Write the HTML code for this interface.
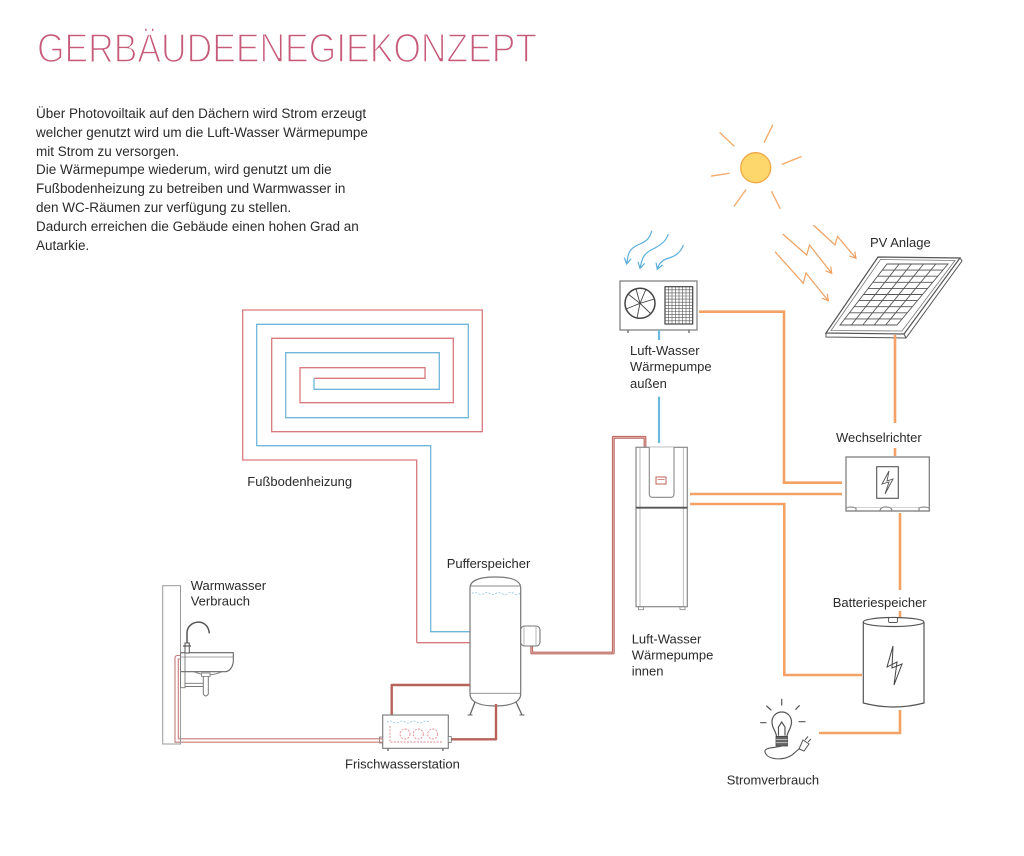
<!DOCTYPE html>
<html>
<head>
<meta charset="utf-8">
<style>
  html,body{margin:0;padding:0;background:#fff;}
  body{width:1024px;height:856px;position:relative;overflow:hidden;font-family:"Liberation Sans",Arial,sans-serif;}
  #para{position:absolute;left:36px;top:105px;font-size:13.5px;line-height:18.8px;color:#2a2a2a;white-space:nowrap;}
  svg{position:absolute;left:0;top:0;}
</style>
</head>
<body>
<svg width="1024" height="856" viewBox="0 0 1024 856" xmlns="http://www.w3.org/2000/svg" font-family="Liberation Sans, Arial, sans-serif">
  <defs>
    <marker id="ao" markerWidth="8" markerHeight="8" refX="6" refY="4" orient="auto" markerUnits="userSpaceOnUse">
      <path d="M0,0.5 L6,4 L0,7.5" fill="none" stroke="#f0a060" stroke-width="1.2"/>
    </marker>
    <marker id="ab" markerWidth="8" markerHeight="8" refX="6" refY="4" orient="auto" markerUnits="userSpaceOnUse">
      <path d="M0,0.5 L6,4 L0,7.5" fill="none" stroke="#5aaedc" stroke-width="1.2"/>
    </marker>
  </defs>

  <!-- Title (thinned with white stroke) -->
  <text x="37" y="62" font-size="41" fill="#c65a78" stroke="#fff" stroke-width="1.6" textLength="500" lengthAdjust="spacingAndGlyphs">GERBÄUDEENEGIEKONZEPT</text>

  <!-- Floor heating spiral -->
  <polyline fill="none" stroke="#d9797e" stroke-width="1.3"
    points="416.7,642.7 416.7,460 242.7,460 242.7,310 482.3,310 482.3,431.7 271.7,431.7 271.7,338.3 453.3,338.3 453.3,402.7 300,402.7 300,367.7 425,367.7 425,378.3 314,378.3"/>
  <polyline fill="none" stroke="#70b6d8" stroke-width="1.3"
    points="314,378.3 314,389.3 439.3,389.3 439.3,352.7 285.7,352.7 285.7,417.7 468.3,417.7 468.3,324.3 256.7,324.3 256.7,445.7 430.7,445.7 430.7,631.7 470,631.7"/>
  <line x1="416.7" y1="642.7" x2="470" y2="642.7" stroke="#d9797e" stroke-width="1.3"/>

  <!-- Sun -->
  <g stroke="#f2ad6e" stroke-width="1.4" stroke-linecap="round">
    <line x1="720" y1="132.7" x2="734" y2="146"/>
    <line x1="772.7" y1="125" x2="764.3" y2="142.3"/>
    <line x1="782.3" y1="164.3" x2="801" y2="156.7"/>
    <line x1="711.7" y1="176" x2="729" y2="173.3"/>
    <line x1="745.7" y1="190" x2="734.3" y2="206"/>
    <line x1="771.7" y1="191.7" x2="780" y2="208.3"/>
  </g>
  <circle cx="755.7" cy="167.7" r="15" fill="#fdd66c" stroke="#f0a848" stroke-width="1.3"/>

  <!-- Light rays -->
  <g fill="none" stroke="#f0a060" stroke-width="1.2">
    <polyline points="782.7,234 806.7,255 809.5,245 831.7,273.3" marker-end="url(#ao)"/>
    <polyline points="813.3,225 835,245 837.5,236.5 856,258.3" marker-end="url(#ao)"/>
    <polyline points="775,251.7 803.3,283.3 806,273 828.3,300.7" marker-end="url(#ao)"/>
  </g>

  <!-- PV panel -->
  <polygon points="826,333 878,257 960,258 904,334" fill="#fff" stroke="#555" stroke-width="1.2"/>
  <polyline points="826,333 826,337 906,338 962,261 960,258" fill="none" stroke="#555" stroke-width="1"/>
  <line x1="904" y1="334" x2="906" y2="338" stroke="#555" stroke-width="1"/>
  <polygon points="831,330.5 880.5,259.5 955,260.5 902,331" fill="none" stroke="#777" stroke-width="0.8"/>
  <g stroke="#555" stroke-width="0.9" fill="none">
    <polygon points="887,264 948,264 897,325 840,325"/>
    <line x1="899.2" y1="264" x2="851.4" y2="325"/>
    <line x1="911.4" y1="264" x2="862.8" y2="325"/>
    <line x1="923.6" y1="264" x2="874.2" y2="325"/>
    <line x1="935.8" y1="264" x2="885.6" y2="325"/>
    <line x1="882.3" y1="270.1" x2="942.9" y2="270.1"/>
    <line x1="877.6" y1="276.2" x2="937.8" y2="276.2"/>
    <line x1="872.9" y1="282.3" x2="932.7" y2="282.3"/>
    <line x1="868.2" y1="288.4" x2="927.6" y2="288.4"/>
    <line x1="863.5" y1="294.5" x2="922.5" y2="294.5"/>
    <line x1="858.8" y1="300.6" x2="917.4" y2="300.6"/>
    <line x1="854.1" y1="306.7" x2="912.3" y2="306.7"/>
    <line x1="849.4" y1="312.8" x2="907.2" y2="312.8"/>
    <line x1="844.7" y1="318.9" x2="902.1" y2="318.9"/>
  </g>

  <!-- Orange power lines -->
  <g fill="none" stroke="#f3a263" stroke-width="2.6">
    <polyline points="699,311.7 784,311.7 784,482.7 842,482.7"/>
    <line x1="690" y1="494" x2="842" y2="494"/>
    <polyline points="690,504 784.3,504 784.3,675 862,675"/>
    <line x1="895" y1="335" x2="895" y2="423"/>
    <line x1="895" y1="448" x2="895" y2="456"/>
    <line x1="900" y1="513" x2="900" y2="590"/>
    <line x1="900" y1="611" x2="900" y2="617"/>
    <polyline points="900,710 900,733 819,733"/>
  </g>

  <!-- Blue air arrows -->
  <g fill="none" stroke="#5aaedc" stroke-width="1.2">
    <path d="M651.7,230.7 C650,238 647,241 640,244 C632,247 629,251 628,256 L626.7,264" marker-end="url(#ab)"/>
    <path d="M668.3,234 C666,241 662,244 655,248 C646,252 643,256 641.5,262 L640,268.3" marker-end="url(#ab)"/>
    <path d="M683.3,245 C681,252 676,256 669,258 C662,260 660,263 658.5,266 L657.3,269.3" marker-end="url(#ab)"/>
  </g>

  <!-- Outdoor heat pump -->
  <rect x="620" y="281" width="77" height="49" fill="#fff" stroke="#777" stroke-width="1.2"/>
  <line x1="628" y1="330" x2="628" y2="333" stroke="#777" stroke-width="1.5"/>
  <line x1="689" y1="330" x2="689" y2="333" stroke="#777" stroke-width="1.5"/>
  <circle cx="640" cy="303.3" r="15" fill="none" stroke="#444" stroke-width="1.5"/>
  <g stroke="#444" stroke-width="0.9">
    <line x1="640" y1="303.3" x2="646" y2="289"/>
    <line x1="640" y1="303.3" x2="654.5" y2="299"/>
    <line x1="640" y1="303.3" x2="651" y2="314"/>
    <line x1="640" y1="303.3" x2="637" y2="318"/>
    <line x1="640" y1="303.3" x2="626" y2="309"/>
    <line x1="640" y1="303.3" x2="628" y2="294"/>
    <line x1="640" y1="303.3" x2="636" y2="289"/>
  </g>
  <rect x="665" y="286.7" width="27.7" height="37.3" fill="none" stroke="#444" stroke-width="1.2"/>
  <g stroke="#555" stroke-width="0.6">
    <line x1="668.5" y1="287" x2="668.5" y2="324"/><line x1="672" y1="287" x2="672" y2="324"/>
    <line x1="675.5" y1="287" x2="675.5" y2="324"/><line x1="679" y1="287" x2="679" y2="324"/>
    <line x1="682.5" y1="287" x2="682.5" y2="324"/><line x1="686" y1="287" x2="686" y2="324"/>
    <line x1="689.5" y1="287" x2="689.5" y2="324"/>
    <line x1="665" y1="289.8" x2="692.7" y2="289.8"/><line x1="665" y1="292.9" x2="692.7" y2="292.9"/>
    <line x1="665" y1="296" x2="692.7" y2="296"/><line x1="665" y1="299.1" x2="692.7" y2="299.1"/>
    <line x1="665" y1="302.2" x2="692.7" y2="302.2"/><line x1="665" y1="305.3" x2="692.7" y2="305.3"/>
    <line x1="665" y1="308.4" x2="692.7" y2="308.4"/><line x1="665" y1="311.5" x2="692.7" y2="311.5"/>
    <line x1="665" y1="314.6" x2="692.7" y2="314.6"/><line x1="665" y1="317.7" x2="692.7" y2="317.7"/>
    <line x1="665" y1="320.8" x2="692.7" y2="320.8"/>
  </g>

  <!-- Blue pipe outdoor->indoor -->
  <line x1="659" y1="330" x2="659" y2="340" stroke="#6cb8e0" stroke-width="2.2"/>
  <line x1="659" y1="396.7" x2="659" y2="443" stroke="#6cb8e0" stroke-width="2.2"/>

  <!-- Red pipe heat pump -> tank -->
  <polyline points="531.7,643 531.7,653 613.3,653 613.3,437.3 645,437.3 645,447" fill="none" stroke="#b9655f" stroke-width="2.8" stroke-linejoin="round"/>
  <polyline points="531.7,643 531.7,653 613.3,653 613.3,437.3 645,437.3 645,447" fill="none" stroke="#eab9b4" stroke-width="0.8" stroke-linejoin="round"/>

  <!-- Indoor heat pump -->
  <rect x="636" y="447.3" width="51.3" height="159.4" fill="#fff" stroke="#888" stroke-width="1.2"/>
  <line x1="640" y1="447.3" x2="640" y2="606.7" stroke="#aaa" stroke-width="0.8"/>
  <line x1="683.3" y1="447.3" x2="683.3" y2="606.7" stroke="#aaa" stroke-width="0.8"/>
  <path d="M649.3,447.3 L649.3,494 Q649.3,497.3 652.5,497.3 L671,497.3 Q674,497.3 674,494 L674,447.3" fill="#fff" stroke="#888" stroke-width="1.1"/>
  <rect x="656" y="477" width="10" height="7" fill="none" stroke="#c0605a" stroke-width="1"/>
  <line x1="657.5" y1="479.5" x2="664.5" y2="479.5" stroke="#c0605a" stroke-width="0.7"/>
  <line x1="636" y1="507.7" x2="687.3" y2="507.7" stroke="#555" stroke-width="1.8"/>
  <rect x="638.5" y="606.7" width="5" height="3" fill="none" stroke="#888" stroke-width="0.8"/>
  <rect x="680" y="606.7" width="5" height="3" fill="none" stroke="#888" stroke-width="0.8"/>

  <!-- Inverter -->
  <path d="M846,457 L929.3,457 L929.3,511 L846,511 Z" fill="#fff" stroke="#777" stroke-width="1.2"/>
  <path d="M846,511 L846,508 Q851,506 856,508 L856,511 M880,511 Q880,507 886,507 Q892,507 892,511 M919,511 L919,508 Q924,506 929.3,508" fill="none" stroke="#777" stroke-width="1"/>
  <line x1="846" y1="507.5" x2="929.3" y2="507.5" stroke="#aaa" stroke-width="0.6"/>
  <rect x="876.7" y="466.7" width="21.6" height="31.6" fill="none" stroke="#555" stroke-width="1.1"/>
  <path d="M889,471 L882,484 L889,482 L885,494 L893,479 L887,481 Z" fill="none" stroke="#555" stroke-width="0.9"/>

  <!-- Battery -->
  <path d="M863.3,622 L863.3,703 Q893.6,711 924,703 L924,622" fill="#fff" stroke="#555" stroke-width="1.2"/>
  <ellipse cx="893.6" cy="622" rx="30.3" ry="4.5" fill="#fff" stroke="#555" stroke-width="1.2"/>
  <rect x="888.5" y="617.5" width="9" height="5" rx="1.5" fill="#fff" stroke="#555" stroke-width="0.9"/>
  <path d="M893,646 L887,667 L897,662 L894,685 L902,664 L892,668 Z" fill="none" stroke="#444" stroke-width="1"/>

  <!-- Light bulb -->
  <g stroke="#555" stroke-width="1.2" fill="none" stroke-linecap="round">
    <line x1="781.7" y1="699.3" x2="781.7" y2="705"/>
    <line x1="766.7" y1="706" x2="771" y2="710"/>
    <line x1="799.3" y1="705.7" x2="795.7" y2="709.3"/>
    <line x1="760.7" y1="722.7" x2="766" y2="722.7"/>
    <line x1="799" y1="721.7" x2="805" y2="721.7"/>
    <path d="M776.5,736.5 C776,731 772,728.5 772,722 C772,716 776.5,712 781.7,712 C787,712 791.5,716 791.5,722 C791.5,728.5 787.5,731 787,736.5 Z"/>
    <path d="M778.5,735 L778.5,727 L781.7,722 L785,727 L785,735"/>
  </g>
  <rect x="776" y="736.5" width="11.5" height="9.5" fill="#666" stroke="#444" stroke-width="0.8"/>
  <line x1="776" y1="739.5" x2="787.5" y2="739.5" stroke="#ddd" stroke-width="0.7"/>
  <line x1="776" y1="742.7" x2="787.5" y2="742.7" stroke="#ddd" stroke-width="0.7"/>
  <path d="M781.7,746 C776,748 764,747 765,752 C767,760 783,761 792,755 L800,748" fill="none" stroke="#555" stroke-width="1.1"/>
  <path d="M799,749 L803,740 L809,744 L804,751 Z" fill="#fff" stroke="#555" stroke-width="1"/>
  <line x1="805" y1="740" x2="808" y2="736.5" stroke="#555" stroke-width="1"/>
  <line x1="808" y1="742" x2="811" y2="739" stroke="#555" stroke-width="1"/>

  <!-- Pufferspeicher (tank) -->
  <path d="M470,588 C470,580 480,577 495.5,577 C511,577 520.7,580 520.7,588 L520.7,694 C520.7,702 511,706 495.5,706 C480,706 470,702 470,694 Z" fill="#fff" stroke="#777" stroke-width="1.2"/>
  <line x1="470" y1="586" x2="520.7" y2="586" stroke="#888" stroke-width="0.9"/>
  <line x1="470" y1="693.3" x2="520.7" y2="693.3" stroke="#888" stroke-width="0.9"/>
  <path d="M472,593.5 q3,-2 6,0 t6,0 t6,0 t6,0 t6,0 t6,0 t6,0 t6,0" fill="none" stroke="#8cc4e6" stroke-width="0.8" stroke-dasharray="2,1.5"/>
  <line x1="475" y1="702" x2="470" y2="715" stroke="#666" stroke-width="1.3"/>
  <line x1="516" y1="702" x2="522" y2="715" stroke="#666" stroke-width="1.3"/>
  <line x1="467.5" y1="715" x2="472.5" y2="715" stroke="#666" stroke-width="1"/>
  <line x1="519.5" y1="715" x2="524.5" y2="715" stroke="#666" stroke-width="1"/>
  <rect x="520.7" y="626" width="19.3" height="20" rx="4" fill="#fff" stroke="#777" stroke-width="1.1"/>
  <line x1="524" y1="626" x2="524" y2="646" stroke="#999" stroke-width="0.7"/>
  <line x1="536" y1="626" x2="536" y2="646" stroke="#999" stroke-width="0.7"/>

  <!-- Tank -> station pipes -->
  <g fill="none" stroke="#b8625c" stroke-width="2.4" stroke-linejoin="round">
    <polyline points="470,685 391.7,685 391.7,715"/>
    <polyline points="496,704 496,739.3 449,739.3"/>
  </g>

  <!-- Frischwasserstation -->
  <rect x="382.7" y="715" width="65.6" height="33.3" fill="#fff" stroke="#777" stroke-width="1.1"/>
  <line x1="388" y1="748.3" x2="388" y2="751" stroke="#777" stroke-width="1.5"/>
  <line x1="443" y1="748.3" x2="443" y2="751" stroke="#777" stroke-width="1.5"/>
  <rect x="379.5" y="737" width="3.2" height="6" fill="#fff" stroke="#777" stroke-width="0.8"/>
  <rect x="448.3" y="736.5" width="3" height="6" fill="#fff" stroke="#777" stroke-width="0.8"/>
  <path d="M387,722 q3,-2 6,0 t6,0 t6,0 t6,0 t6,0 t6,0 t6,0" fill="none" stroke="#8cc4e6" stroke-width="0.8" stroke-dasharray="2,1.5"/>
  <g fill="none" stroke="#e28a8e" stroke-width="0.9" stroke-dasharray="2,1.3">
    <path d="M390,726 L390,742 L442,742"/>
    <circle cx="405" cy="734" r="5"/>
    <circle cx="418.3" cy="734" r="5"/>
    <circle cx="432.7" cy="734" r="5"/>
  </g>

  <!-- Station -> sink pipe (double line) -->
  <path d="M382.7,742.2 L175,742.2 L175,658 Q175,655.5 177.5,655.5 L183,655.5" fill="none" stroke="#c77a78" stroke-width="1.1"/>
  <path d="M382.7,738.8 L178.3,738.8 L178.3,659 L183,659" fill="none" stroke="#c77a78" stroke-width="1.1"/>

  <!-- Wall and sink -->
  <rect x="162.7" y="585.7" width="17.8" height="158.3" fill="none" stroke="#999" stroke-width="1"/>
  <path d="M180.5,652.7 L233.3,652.7 L233.3,662 Q232,670 226,671.7 L180.5,671.7" fill="#fff" stroke="#666" stroke-width="1.1"/>
  <line x1="180.5" y1="657" x2="233" y2="657" stroke="#888" stroke-width="0.7"/>
  <rect x="180.5" y="652.7" width="4.5" height="35" fill="none" stroke="#777" stroke-width="0.9"/>
  <path d="M194,671.7 Q208,678 222,671.7" fill="none" stroke="#777" stroke-width="0.9"/>
  <path d="M185,683.3 L203.3,683.3 M185,686.5 L203.3,686.5" stroke="#777" stroke-width="0.9"/>
  <path d="M203.3,674 L203.3,694 Q205.8,698 208.3,694 L208.3,674" fill="#fff" stroke="#777" stroke-width="1"/>
  <rect x="201.5" y="673" width="8.5" height="3.5" fill="#fff" stroke="#777" stroke-width="0.8"/>
  <path d="M187,643 L187,633 C187,620 208,617 209.3,633.3" fill="none" stroke="#555" stroke-width="1.5"/>
  <rect x="185" y="643" width="4.3" height="10" fill="#fff" stroke="#555" stroke-width="1"/>
  <line x1="183" y1="646" x2="191" y2="646" stroke="#555" stroke-width="1.2"/>

  <!-- Labels -->
  <g font-size="13" fill="#2a2a2a">
    <text x="870" y="247">PV Anlage</text>
    <text x="630" y="355">Luft-Wasser</text>
    <text x="630" y="371">Wärmepumpe</text>
    <text x="630" y="388">außen</text>
    <text x="836" y="442">Wechselrichter</text>
    <text x="832.7" y="607">Batteriespeicher</text>
    <text x="631.7" y="643.5">Luft-Wasser</text>
    <text x="631.7" y="659.5">Wärmepumpe</text>
    <text x="631.7" y="675.5">innen</text>
    <text x="446.7" y="568">Pufferspeicher</text>
    <text x="190.7" y="590">Warmwasser</text>
    <text x="190.7" y="605.5">Verbrauch</text>
    <text x="345" y="768.5">Frischwasserstation</text>
    <text x="247.3" y="486">Fußbodenheizung</text>
    <text x="726.7" y="784.5">Stromverbrauch</text>
  </g>
</svg>

<div id="para">Über Photovoiltaik auf den Dächern wird Strom erzeugt<br>welcher genutzt wird um die Luft-Wasser Wärmepumpe<br>mit Strom zu versorgen.<br>Die Wärmepumpe wiederum, wird genutzt um die<br>Fußbodenheizung zu betreiben und Warmwasser in<br>den WC-Räumen zur verfügung zu stellen.<br>Dadurch erreichen die Gebäude einen hohen Grad an<br>Autarkie.</div>
</body>
</html>
